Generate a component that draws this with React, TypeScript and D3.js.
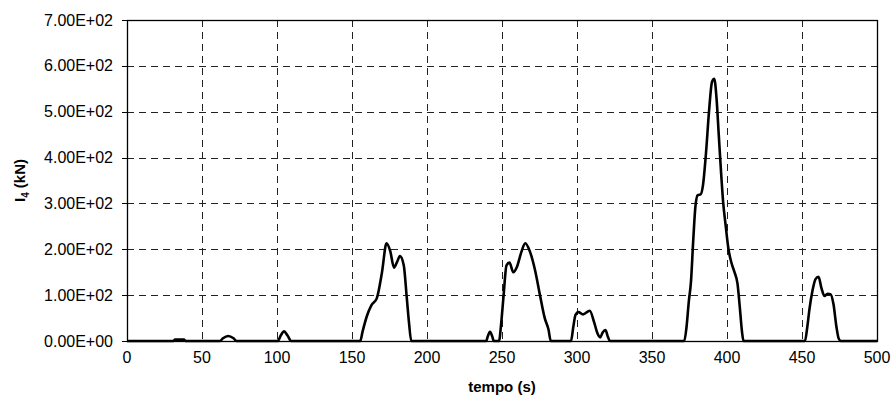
import { useEffect, useRef } from 'react';
import * as d3 from 'd3';

const WIDTH = 893;
const HEIGHT = 407;

// time (s) and force I4 (kN)
const TIME_S = [
  0, 31, 32, 38, 39,
  62, 64, 67.5, 71, 73,
  100.5, 102.5, 104.7, 107, 109.5,
  155.5, 157, 160, 163, 166.5, 170, 173, 175.5, 178, 180, 182, 184.5, 186.5, 188, 189.5,
  239.5, 240.5, 242, 243.5, 244.5,
  248, 249.5, 251, 253, 255, 257.5, 260, 263, 265.5, 268.5, 272, 275.5, 278.5, 281, 282.5,
  296, 297.5, 299, 301, 304, 308.5, 311.5, 313.5, 315.5, 317, 319, 320.5, 322,
  371.5, 373, 374.5, 376, 377.5, 379, 380.5, 382.5, 384, 386, 388, 390, 391.5, 393, 394.5, 396,
  397.5, 399, 401, 403, 405, 407, 408.5, 410, 411,
  452, 453.5, 455, 457, 459, 461, 463, 465, 467, 469, 471, 473, 474.5, 476,
  500,
];

const FORCE_KN = [
  0, 0, 3, 3, 0,
  0, 6, 11, 6, 0,
  0, 12, 21, 12, 0,
  0, 20, 55, 78, 93, 150, 213, 196, 160, 172, 185, 165, 95, 40, 0,
  0, 10, 20, 10, 0,
  0, 40, 97, 165, 171, 150, 162, 195, 213, 196, 155, 97, 50, 25, 0,
  0, 30, 57, 63, 58, 66, 40, 18, 8, 18, 24, 10, 0,
  0, 30, 85, 130, 220, 295, 318, 320, 340, 410, 500, 565, 572, 530, 450, 370,
  300, 255, 200, 170, 150, 125, 75, 20, 0,
  0, 30, 70, 110, 135, 140, 115, 98, 103, 102, 80, 30, 5, 0,
  0,
];

const X_TICKS = [0, 50, 100, 150, 200, 250, 300, 350, 400, 450, 500];
const Y_TICKS = [0, 100, 200, 300, 400, 500, 600, 700];

const fmtSci = (v: number) => {
  if (v === 0) return '0.00E+00';
  const e = Math.floor(Math.log10(Math.abs(v)));
  return `${(v / 10 ** e).toFixed(2)}E+${String(e).padStart(2, '0')}`;
};

export default function App() {
  const ref = useRef<SVGSVGElement | null>(null);

  useEffect(() => {
    if (!ref.current) return;
    const svg = d3.select(ref.current);
    svg.selectAll('*').remove();

    const m = { left: 127, right: 877, top: 20, bottom: 341 };
    const x = d3.scaleLinear().domain([0, 500]).range([m.left, m.right]);
    const y = d3.scaleLinear().domain([0, 700]).range([m.bottom, m.top]);
    const font = "'Liberation Sans', Arial, sans-serif";

    // grid
    const grid = svg.append('g').attr('stroke', '#222').attr('stroke-width', 1)
      .attr('stroke-dasharray', '7,5');
    grid.selectAll('line.h').data(Y_TICKS.slice(1, -1)).join('line')
      .attr('x1', m.left).attr('x2', m.right)
      .attr('y1', d => Math.round(y(d)) + 0.5).attr('y2', d => Math.round(y(d)) + 0.5);
    grid.selectAll('line.v').data(X_TICKS.slice(1, -1)).join('line')
      .attr('y1', m.top).attr('y2', m.bottom)
      .attr('x1', d => Math.round(x(d)) + 0.5).attr('x2', d => Math.round(x(d)) + 0.5);

    // frame
    svg.append('rect')
      .attr('x', m.left + 0.5).attr('y', m.top + 0.5)
      .attr('width', m.right - m.left).attr('height', m.bottom - m.top)
      .attr('fill', 'none').attr('stroke', '#000').attr('stroke-width', 1.3);

    // y ticks
    const yAx = svg.append('g');
    yAx.selectAll('line').data(Y_TICKS).join('line')
      .attr('x1', m.left - 5).attr('x2', m.left)
      .attr('y1', d => Math.round(y(d)) + 0.5).attr('y2', d => Math.round(y(d)) + 0.5)
      .attr('stroke', '#000');
    yAx.selectAll('text').data(Y_TICKS).join('text')
      .attr('x', 113).attr('y', d => y(d))
      .attr('dy', '0.35em')
      .attr('text-anchor', 'end')
      .style('font-family', font).style('font-size', '16px')
      .text(d => fmtSci(d));

    // x tick labels
    svg.append('g').selectAll('text').data(X_TICKS).join('text')
      .attr('x', d => x(d)).attr('y', 363)
      .attr('text-anchor', 'middle')
      .style('font-family', font).style('font-size', '16px')
      .text(d => String(d));

    // axis titles
    svg.append('text')
      .attr('x', (m.left + m.right) / 2).attr('y', 392)
      .attr('text-anchor', 'middle')
      .style('font-family', font).style('font-size', '15px').style('font-weight', 'bold')
      .text('tempo (s)');

    const yt = svg.append('text')
      .attr('transform', `translate(25,${(m.top + m.bottom) / 2}) rotate(-90)`)
      .attr('text-anchor', 'middle')
      .style('font-family', font).style('font-size', '15px').style('font-weight', 'bold');
    yt.append('tspan').text('I');
    yt.append('tspan').attr('dy', 4).style('font-size', '10px').text('4');
    yt.append('tspan').attr('dy', -4).text(' (kN)');

    // series
    const pts = TIME_S.map((t, i) => [t, FORCE_KN[i]] as [number, number]);
    const line = d3.line<[number, number]>()
      .x(d => x(d[0])).y(d => y(d[1]))
      .curve(d3.curveMonotoneX);
    svg.append('path')
      .datum(pts)
      .attr('d', line)
      .attr('fill', 'none')
      .attr('stroke', '#000')
      .attr('stroke-width', 2.6)
      .attr('stroke-linejoin', 'round');
  }, []);

  return (
    <svg
      ref={ref}
      width={WIDTH}
      height={HEIGHT}
      style={{ position: 'absolute', left: 0, top: 0, background: '#fff' }}
    />
  );
}
